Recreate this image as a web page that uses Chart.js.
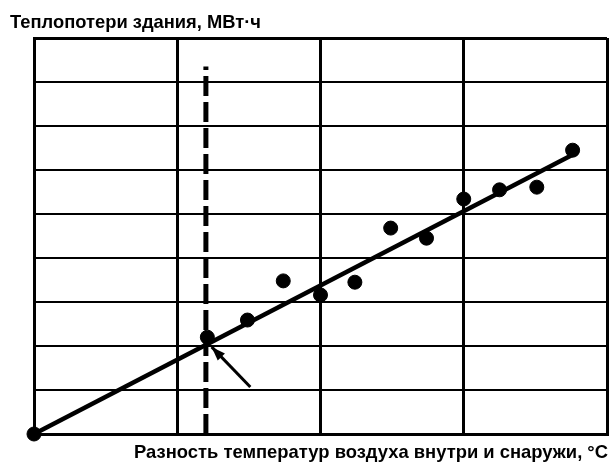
<!DOCTYPE html>
<html>
<head>
<meta charset="utf-8">
<script src="https://cdn.jsdelivr.net/npm/chart.js@4.4.0/dist/chart.umd.min.js"></script>
<style>
  html, body { margin: 0; padding: 0; background: #fff; }
  #wrap { width: 609px; height: 463px; }
</style>
</head>
<body>
<div id="wrap"><canvas id="heatChart"></canvas></div>
<script>
// values (no tick labels are printed, units are arbitrary)
var yTitle = "Теплопотери здания, МВт·ч";
var xTitle = "Разность температур воздуха внутри и снаружи, °С";

var xTicks = [0, 10, 20, 30, 40];
var yTicks = [0, 10, 20, 30, 40, 50, 60, 70, 80, 90];

var measuredX = [0, 12.1, 14.9, 17.4, 20.0, 22.4, 24.9, 27.4, 30.0, 32.5, 35.1, 37.6];
var measuredY = [0, 22.0, 25.9, 34.8, 31.6, 34.5, 46.8, 44.5, 53.4, 55.5, 56.1, 64.5];

var trendX = [0, 37.8];
var trendY = [0, 63.8];

var balanceX = 12.0; // dashed vertical line
var balanceTop = 83.5;
var arrowFrom = [15.1, 10.7];
var arrowTo = [12.4, 19.8];

function pairs(xs, ys) {
  return xs.map(function (x, i) { return { x: x, y: ys[i] }; });
}

var extras = {
  id: "extras",
  afterDatasetsDraw: function (chart) {
    var ctx = chart.ctx;
    var sx = chart.scales.x, sy = chart.scales.y;
    var area = chart.chartArea;

    // arrow pointing at the balance point
    var x1 = sx.getPixelForValue(arrowFrom[0]), y1 = sy.getPixelForValue(arrowFrom[1]);
    var x2 = sx.getPixelForValue(arrowTo[0]), y2 = sy.getPixelForValue(arrowTo[1]);
    var ang = Math.atan2(y2 - y1, x2 - x1);
    ctx.save();
    ctx.strokeStyle = "#000";
    ctx.fillStyle = "#000";
    ctx.lineWidth = 3;
    ctx.beginPath();
    ctx.moveTo(x1, y1);
    ctx.lineTo(x2, y2);
    ctx.stroke();
    ctx.beginPath();
    ctx.moveTo(x2, y2);
    ctx.lineTo(x2 - 14 * Math.cos(ang) + 5 * Math.sin(ang), y2 - 14 * Math.sin(ang) - 5 * Math.cos(ang));
    ctx.lineTo(x2 - 14 * Math.cos(ang) - 5 * Math.sin(ang), y2 - 14 * Math.sin(ang) + 5 * Math.cos(ang));
    ctx.closePath();
    ctx.fill();

    // axis captions
    ctx.font = 'bold 18.5px "Liberation Sans", Arial, sans-serif';
    ctx.textBaseline = "alphabetic";
    ctx.textAlign = "left";
    ctx.fillText(yTitle, area.left - 24, area.top - 10, 251);
    ctx.textAlign = "right";
    ctx.fillText(xTitle, area.right + 1, area.bottom + 24, 474);
    ctx.restore();
  }
};

var heatChart = new Chart(document.getElementById("heatChart"), {
  type: "scatter",
  data: {
    datasets: [
      {
        data: pairs(trendX, trendY),
        showLine: true,
        borderColor: "#000",
        borderWidth: 4.5,
        pointRadius: 0,
        clip: false
      },
      {
        data: [{ x: balanceX, y: 0 }, { x: balanceX, y: balanceTop }],
        showLine: true,
        borderColor: "#000",
        borderWidth: 5,
        borderDash: [20, 6],
        pointRadius: 0
      },
      {
        data: pairs(measuredX, measuredY),
        backgroundColor: "#000",
        borderColor: "#000",
        pointRadius: 7,
        pointHoverRadius: 7,
        clip: false
      }
    ]
  },
  options: {
    responsive: true,
    maintainAspectRatio: false,
    animation: false,
    events: [],
    layout: { autoPadding: false, padding: { left: 34, top: 38, right: 2, bottom: 29 } },
    plugins: { legend: { display: false }, tooltip: { enabled: false } },
    scales: {
      x: {
        min: 0,
        max: 40,
        afterBuildTicks: function (axis) {
          axis.ticks = xTicks.map(function (v) { return { value: v }; });
        },
        ticks: { display: false },
        grid: { color: "#000", lineWidth: 3, drawTicks: false },
        border: { color: "#000", width: 3 }
      },
      y: {
        min: 0,
        max: 90,
        afterBuildTicks: function (axis) {
          axis.ticks = yTicks.map(function (v) { return { value: v }; });
        },
        ticks: { display: false },
        grid: {
          color: "#000",
          drawTicks: false,
          lineWidth: function (c) { return c.tick && c.tick.value === 90 ? 3 : 2; }
        },
        border: { color: "#000", width: 3 }
      }
    }
  },
  plugins: [extras]
});
</script>
</body>
</html>
